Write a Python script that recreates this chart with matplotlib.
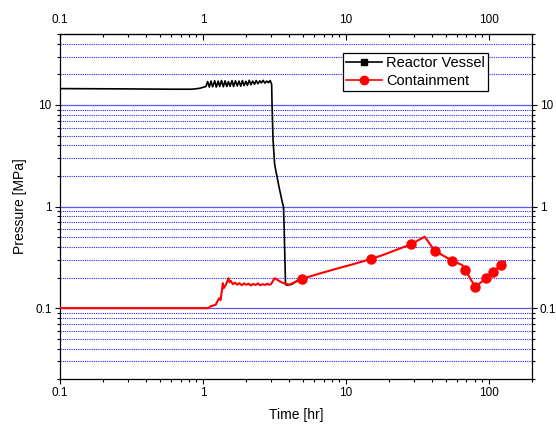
import matplotlib
matplotlib.use("Agg")
import matplotlib.pyplot as plt
from matplotlib.lines import Line2D
from matplotlib.ticker import LogLocator, FixedLocator, FuncFormatter, NullFormatter

plt.rcParams['font.family'] = ['Liberation Sans', 'DejaVu Sans']

# Reactor vessel pressure [MPa] vs time [hr]
rv_t = [0.1, 0.3, 0.6, 0.84, 0.95, 1.05,
        1.08, 1.11, 1.14, 1.17, 1.21, 1.24, 1.28, 1.31, 1.35, 1.39, 1.43, 1.47,
        1.51, 1.55, 1.60, 1.64, 1.69, 1.74, 1.79, 1.84, 1.89, 1.94, 2.00, 2.05,
        2.11, 2.17, 2.23, 2.30, 2.36, 2.43, 2.50, 2.57, 2.64, 2.72, 2.80, 2.88,
        2.96, 3.03,
        3.05, 3.10, 3.18, 3.40, 3.60, 3.67, 3.72, 3.79, 3.87, 4.2, 4.66, 4.92]
rv_p = [14.5, 14.4, 14.3, 14.3, 14.6, 15.2,
        17.0, 15.0, 17.2, 15.1, 17.3, 15.0, 17.2, 15.2, 17.4, 15.1, 17.3, 15.2,
        17.0, 15.3, 17.4, 15.2, 17.3, 15.4, 17.2, 15.3, 17.4, 15.5, 17.1, 15.6,
        17.5, 15.8, 17.2, 16.0, 17.4, 16.2, 17.3, 16.5, 17.5, 16.4, 17.2, 16.6,
        17.4, 16.0,
        10.0, 4.5, 2.6, 1.6, 1.1, 0.99, 0.5, 0.171, 0.168, 0.172, 0.19, 0.194]

# Containment pressure [MPa] vs time [hr]
ct_t = [0.1, 1.09, 1.13, 1.18, 1.23, 1.27, 1.30, 1.33, 1.36, 1.38, 1.40, 1.45,
        1.51, 1.54, 1.57, 1.62, 1.68, 1.74, 1.80, 1.87, 1.94, 2.01, 2.09, 2.17,
        2.25, 2.34, 2.43, 2.52, 2.62, 2.72, 2.82, 2.89, 3.0, 3.18, 3.4, 3.6,
        3.87, 4.04, 4.4, 4.92, 6.5, 8.5, 11.0, 15.1, 18.5, 23.0, 28.6, 35.7,
        41.9, 48.0, 55.6, 65.3, 68.8, 80.7, 95.8, 108, 122, 130]
ct_p = [0.1, 0.1, 0.104, 0.106, 0.108, 0.118, 0.125, 0.12, 0.15, 0.176, 0.157, 0.17,
        0.197, 0.18, 0.185, 0.172, 0.178, 0.170, 0.176, 0.168, 0.175, 0.170, 0.174, 0.167,
        0.173, 0.169, 0.175, 0.168, 0.172, 0.169, 0.174, 0.170, 0.172, 0.197, 0.186, 0.178,
        0.172, 0.170, 0.18, 0.194, 0.218, 0.243, 0.268, 0.305, 0.336, 0.378, 0.424, 0.505,
        0.368, 0.33, 0.292, 0.266, 0.238, 0.161, 0.197, 0.229, 0.266, 0.287]

# symbol positions on the containment curve
cm_t = [4.92, 15.1, 28.6, 41.9, 55.6, 68.8, 80.7, 95.8, 108, 122]
cm_p = [0.194, 0.305, 0.424, 0.368, 0.292, 0.238, 0.161, 0.197, 0.229, 0.266]

x_major = [0.1, 1, 10, 100]
y_major = [0.1, 1, 10]

fig = plt.figure(figsize=(5.56, 4.25), dpi=100)
ax = fig.add_axes([0.108, 0.108, 0.848, 0.812])

ax.plot(rv_t, rv_p, color='black', lw=1.2, zorder=3)
ax.plot(ct_t, ct_p, color='red', lw=1.5, zorder=4)
ax.plot(cm_t, cm_p, 'o', color='red', ms=6.5, zorder=5)

ax.set_xscale('log')
ax.set_yscale('log')
ax.set_xlim(0.1, 200)
ax.set_ylim(0.02, 50)

fmt = FuncFormatter(lambda v, pos: '%g' % v)
ax.xaxis.set_major_locator(FixedLocator(x_major))
ax.yaxis.set_major_locator(FixedLocator(y_major))
ax.xaxis.set_major_formatter(fmt)
ax.yaxis.set_major_formatter(fmt)
ax.xaxis.set_minor_formatter(NullFormatter())
ax.yaxis.set_minor_formatter(NullFormatter())
ax.yaxis.set_minor_locator(LogLocator(base=10, subs=range(2, 10), numticks=20))

# horizontal grid only, blue
ax.grid(False)
ax.yaxis.grid(True, which='major', color='#5a5aff', ls='-', lw=0.9)
ax.yaxis.grid(True, which='minor', color='#2020ff', ls=(0, (1, 1)), lw=0.8)
ax.set_axisbelow(True)

ax.tick_params(which='both', direction='out', labelsize=8.5, right=True,
               labelright=True, pad=2.5)
ax.tick_params(which='major', length=3.5, width=0.8)
ax.tick_params(which='minor', length=2.5, width=0.8)

top = ax.secondary_xaxis('top')
top.xaxis.set_major_locator(FixedLocator(x_major))
top.xaxis.set_major_formatter(fmt)
top.xaxis.set_minor_formatter(NullFormatter())
top.tick_params(which='both', direction='in', labelsize=8.5, pad=6)
top.tick_params(which='major', length=4, width=0.8)
top.tick_params(which='minor', length=2.5, width=0.8)

for s in ax.spines.values():
    s.set_linewidth(0.9)

ax.set_xlabel('Time [hr]', fontsize=10, labelpad=6)
ax.set_ylabel('Pressure [MPa]', fontsize=10, labelpad=6)

handles = [Line2D([], [], color='black', lw=1.2, marker='s', ms=5),
           Line2D([], [], color='red', lw=1.2, marker='o', ms=6)]
leg = ax.legend(handles, ['Reactor Vessel', 'Containment'], loc='upper right',
                bbox_to_anchor=(0.878, 0.875), bbox_transform=fig.transFigure,
                fontsize=10.5, frameon=True, fancybox=False, framealpha=1,
                edgecolor='black', borderpad=0.2, handlelength=2.5,
                handletextpad=0.3, labelspacing=0.25, borderaxespad=0)
leg.get_frame().set_linewidth(0.9)

fig.savefig('out.png', dpi=100)
